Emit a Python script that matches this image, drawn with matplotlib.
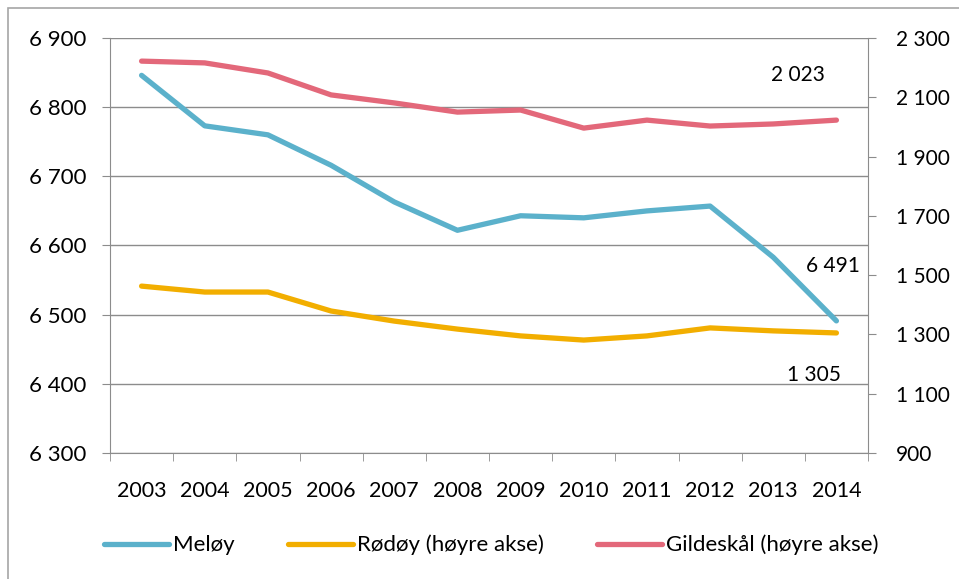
import matplotlib.pyplot as plt
from matplotlib.patches import Rectangle
from matplotlib.ticker import FuncFormatter, FixedLocator

plt.rcParams['font.family'] = ['Lato', 'DejaVu Sans']

years = ['2003', '2004', '2005', '2006', '2007', '2008', '2009', '2010', '2011', '2012', '2013', '2014']
meloy = [6846, 6773, 6760, 6716, 6663, 6622, 6643, 6640, 6650, 6657, 6583, 6491]
rodoy = [1463, 1443, 1443, 1379, 1345, 1318, 1295, 1281, 1295, 1322, 1312, 1305]
gildeskal = [2222, 2216, 2182, 2108, 2081, 2050, 2057, 1996, 2023, 2003, 2010, 2023]

blue = '#5BB1CB'
orange = '#F2AE00'
pink = '#E3687A'
grid_col = '#8C8C8C'


def space_fmt(v, pos=None):
    return f'{int(round(v)):,}'.replace(',', ' ')


fig = plt.figure(figsize=(9.59, 5.79), dpi=100)
W, H = 959, 579
fig.patches.append(Rectangle((8 / W, -0.1), 1.2, 1 - 8 / H + 0.1, transform=fig.transFigure,
                             fill=False, edgecolor='#A6A6A6', lw=1.2))

ax = fig.add_axes([110 / W, 1 - 453 / H, 758 / W, 415 / H])
ax2 = ax.twinx()

x = list(range(len(years)))
l1, = ax.plot(x, meloy, color=blue, lw=3.8, solid_capstyle='round', label='Meløy')
l2, = ax2.plot(x, rodoy, color=orange, lw=3.8, solid_capstyle='round', label='Rødøy (høyre akse)')
l3, = ax2.plot(x, gildeskal, color=pink, lw=3.8, solid_capstyle='round', label='Gildeskål (høyre akse)')

ax.set_xlim(-0.5, len(years) - 0.5)
ax.set_ylim(6300, 6900)
ax.set_yticks(range(6300, 6901, 100))
ax.yaxis.set_major_formatter(FuncFormatter(space_fmt))
ax2.set_ylim(900, 2300)
ax2.set_yticks(range(900, 2301, 200))
ax2.yaxis.set_major_formatter(FuncFormatter(space_fmt))

ax.set_xticks(x)
ax.set_xticklabels(years)
ax.xaxis.set_minor_locator(FixedLocator([i - 0.5 for i in range(len(years) + 1)]))
ax.tick_params(axis='x', which='major', length=0, pad=20, labelsize=15.5)
ax.tick_params(axis='x', which='minor', length=6, color=grid_col, direction='out')
ax.tick_params(axis='y', length=6, color=grid_col, pad=11, labelsize=16)
ax2.tick_params(axis='y', length=6, color=grid_col, pad=14, labelsize=15)

ax.grid(axis='y', color=grid_col, lw=1)
ax.set_axisbelow(True)
for a in (ax, ax2):
    for s in a.spines.values():
        s.set_visible(False)
ax.spines['left'].set_visible(True)
ax.spines['left'].set_color(grid_col)
ax.spines['bottom'].set_visible(True)
ax.spines['bottom'].set_color(grid_col)
ax2.spines['right'].set_visible(True)
ax2.spines['right'].set_color(grid_col)

ax2.annotate(space_fmt(gildeskal[-1]), (x[-1], gildeskal[-1]), xytext=(-38, 45),
             textcoords='offset pixels', ha='center', va='center', fontsize=15)
ax.annotate(space_fmt(meloy[-1]), (x[-1], meloy[-1]), xytext=(-3, 55),
            textcoords='offset pixels', ha='center', va='center', fontsize=15)
ax2.annotate(space_fmt(rodoy[-1]), (x[-1], rodoy[-1]), xytext=(-22, -42),
             textcoords='offset pixels', ha='center', va='center', fontsize=15)

fig.legend(handles=[l1, l2, l3], loc='center', bbox_to_anchor=(0.5 + 12 / W, 1 - 545 / H), ncol=3,
           frameon=False, fontsize=16, handlelength=2.9, columnspacing=2.4, handletextpad=0.2)

fig.savefig('out.png', dpi=100)
